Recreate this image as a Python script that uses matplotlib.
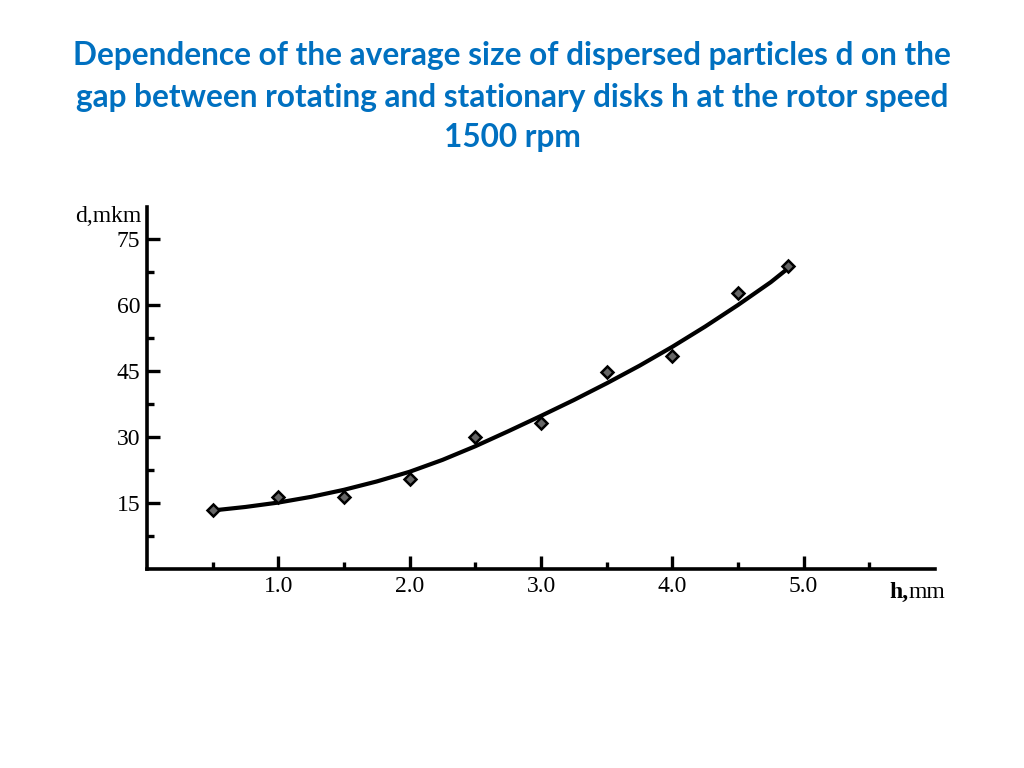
import matplotlib
matplotlib.use("Agg")
import matplotlib.pyplot as plt
from matplotlib.ticker import FixedLocator

# measured points
h_points = [0.5, 1.0, 1.5, 2.0, 2.5, 3.0, 3.5, 4.0, 4.5, 4.88]
d_points = [13.4, 16.4, 16.4, 20.5, 30.0, 33.2, 44.8, 48.3, 62.7, 68.9]

# fitted curve
h_curve = [0.5, 0.75, 1.0, 1.25, 1.5, 1.75, 2.0, 2.25, 2.5, 2.75, 3.0, 3.25,
           3.5, 3.75, 4.0, 4.25, 4.5, 4.75, 4.88]
d_curve = [13.3, 14.1, 15.1, 16.4, 18.0, 19.9, 22.1, 24.8, 27.9, 31.3, 34.8,
           38.4, 42.2, 46.2, 50.5, 55.1, 60.0, 65.2, 68.3]

x_major = [1.0, 2.0, 3.0, 4.0, 5.0]
x_labels = ["1.0", "2.0", "3.0", "4.0", "5.0"]
x_minor = [0.5, 1.5, 2.5, 3.5, 4.5, 5.5]
y_major = [15, 30, 45, 60, 75]
y_minor = [7.5, 22.5, 37.5, 52.5, 67.5]

title_lines = ["Dependence of the average size of dispersed particles d on the",
               "gap between rotating and stationary disks h at the rotor speed",
               "1500 rpm"]
title_y = [55, 97, 137]

fig = plt.figure(figsize=(10.24, 7.68), dpi=100)
fig.patch.set_facecolor("white")

for line, yy in zip(title_lines, title_y):
    fig.text(0.5, 1 - yy/768, line, ha="center", va="center", color="#0070C0",
             fontsize=22.8, fontweight="bold", family=["Lato", "DejaVu Sans"])

ax = fig.add_axes([147/1024, 1-569/768, (935-147)/1024, (569-207)/768])
ax.set_xlim(0, 6)
ax.set_ylim(0, (569-207)/4.4)

ax.plot(h_curve, d_curve, color="black", lw=3, solid_capstyle="round", zorder=2)
ax.plot(h_points, d_points, linestyle="none", marker="D", ms=6,
        mfc="#666666", mec="black", mew=1.8, zorder=3)

for s in ["top", "right"]:
    ax.spines[s].set_visible(False)
for s in ["left", "bottom"]:
    ax.spines[s].set_linewidth(2.6)

ax.xaxis.set_major_locator(FixedLocator(x_major))
ax.set_xticklabels(x_labels)
ax.xaxis.set_minor_locator(FixedLocator(x_minor))
ax.yaxis.set_major_locator(FixedLocator(y_major))
ax.yaxis.set_minor_locator(FixedLocator(y_minor))

serif = ["Liberation Serif", "DejaVu Serif"]
ax.tick_params(axis="both", which="major", direction="in", length=9.5,
               width=2.4, labelsize=17, pad=5)
ax.tick_params(axis="both", which="minor", direction="in", length=5,
               width=2.4)
for lab in ax.get_xticklabels() + ax.get_yticklabels():
    lab.set_family(serif)

fig.text(141/1024, 1-217/768, "d,mkm", ha="right", va="center",
         fontsize=17, family=serif)
t_h = fig.text(889/1024, 1-598/768, "h,", ha="left", va="baseline",
               fontsize=17, family=serif, fontweight="bold")
fig.canvas.draw()
bb = t_h.get_window_extent(renderer=fig.canvas.get_renderer())
fig.text(bb.x1/1024, 1-598/768, "mm", ha="left", va="baseline",
         fontsize=17, family=serif)

fig.savefig("out.png", dpi=100, facecolor="white")
